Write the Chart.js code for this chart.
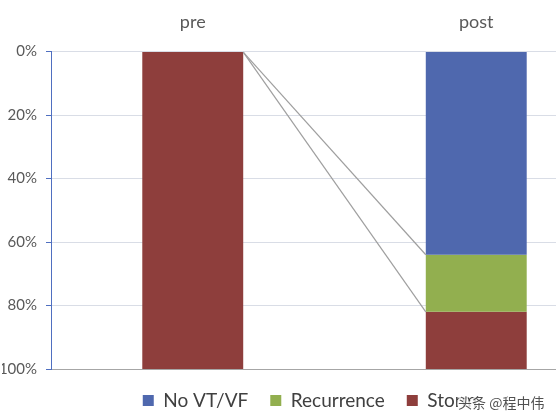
<!DOCTYPE html>
<html>
<head>
  <title>pre / post</title>
  <script src="https://cdn.jsdelivr.net/npm/chart.js"></script>
  <style>
    html, body { margin: 0; padding: 0; background: #fff; }
    #wrap { width: 556px; height: 420px; overflow: hidden; position: relative; }
    #stormChart { display: block; }
  </style>
</head>
<body>

<div id="wrap">
  <canvas id="stormChart" width="632" height="420"></canvas>
</div>

<script>
  // chart values
  const categories = ['pre', 'post'];
  const seriesNames = ['No VT/VF', 'Recurrence', 'Storm'];
  const noVtVf = [0, 64];
  const recurrence = [0, 18];
  const storm = [100, 18];
  const yTicks = [0, 20, 40, 60, 80, 100];

  const colors = ['#4f68ae', '#92af4f', '#8e3e3c'];
  const font = 'Lato, "Open Sans", sans-serif';

  // grey connector lines from the pre bar corner to the post segment edges
  const connectors = {
    id: 'connectors',
    afterDatasetsDraw(chart) {
      const ctx = chart.ctx;
      const preBar = chart.getDatasetMeta(2).data[0];
      const sx = preBar.x + preBar.width / 2;
      const sy = Math.min(preBar.y, preBar.base);
      ctx.save();
      ctx.strokeStyle = '#9f9f9f';
      ctx.lineWidth = 1.2;
      [0, 1].forEach(function (i) {
        const b = chart.getDatasetMeta(i).data[1];
        ctx.beginPath();
        ctx.moveTo(sx, sy);
        ctx.lineTo(b.x - b.width / 2, Math.max(b.y, b.base));
        ctx.stroke();
      });
      ctx.restore();
    }
  };

  // the image carries a small watermark in the lower right
  const watermark = {
    id: 'watermark',
    afterDraw(chart) {
      const ctx = chart.ctx;
      ctx.save();
      ctx.font = '14px "Noto Sans CJK SC"';
      ctx.textBaseline = 'middle';
      ctx.lineWidth = 3;
      ctx.strokeStyle = 'rgba(255,255,255,0.8)';
      ctx.strokeText('头条 @程中伟', 458, 403);
      ctx.fillStyle = 'rgba(50,50,50,0.85)';
      ctx.fillText('头条 @程中伟', 458, 403);
      ctx.restore();
    }
  };

  const ctx = document.getElementById('stormChart').getContext('2d');
  new Chart(ctx, {
    type: 'bar',
    data: {
      labels: categories,
      datasets: [
        { label: seriesNames[0], data: noVtVf, backgroundColor: colors[0] },
        { label: seriesNames[1], data: recurrence, backgroundColor: colors[1] },
        { label: seriesNames[2], data: storm, backgroundColor: colors[2] }
      ]
    },
    options: {
      responsive: false,
      animation: false,
      devicePixelRatio: 1,
      layout: { padding: { top: 0, left: 2, right: 14, bottom: 0 } },
      datasets: {
        bar: { categoryPercentage: 1, barPercentage: 0.356, borderWidth: 0 }
      },
      scales: {
        x: {
          position: 'top',
          stacked: true,
          grid: { display: false },
          border: { display: false },
          ticks: { color: '#595959', font: { family: font, size: 18 }, padding: 11 }
        },
        y: {
          stacked: true,
          reverse: true,
          min: 0,
          max: 100,
          afterBuildTicks(scale) {
            scale.ticks = yTicks.map(v => ({ value: v }));
          },
          afterFit(scale) {
            scale.width = 49;
          },
          grid: {
            color: ctx => ctx.tick && ctx.tick.value === 100 ? '#a6a6a6' : '#d9dde6',
            tickColor: '#4f6fc0',
            tickLength: 5
          },
          border: { color: '#4f6fc0', width: 1 },
          ticks: {
            color: '#595959',
            font: { family: font, size: 15 },
            padding: 9,
            callback: v => v + '%'
          }
        }
      },
      plugins: {
        legend: {
          position: 'bottom',
          labels: {
            color: '#404040',
            font: { family: font, size: 19 },
            boxWidth: 11,
            boxHeight: 11,
            padding: 22
          }
        },
        tooltip: { enabled: false }
      }
    },
    plugins: [connectors, watermark]
  });
</script>

</body>
</html>
